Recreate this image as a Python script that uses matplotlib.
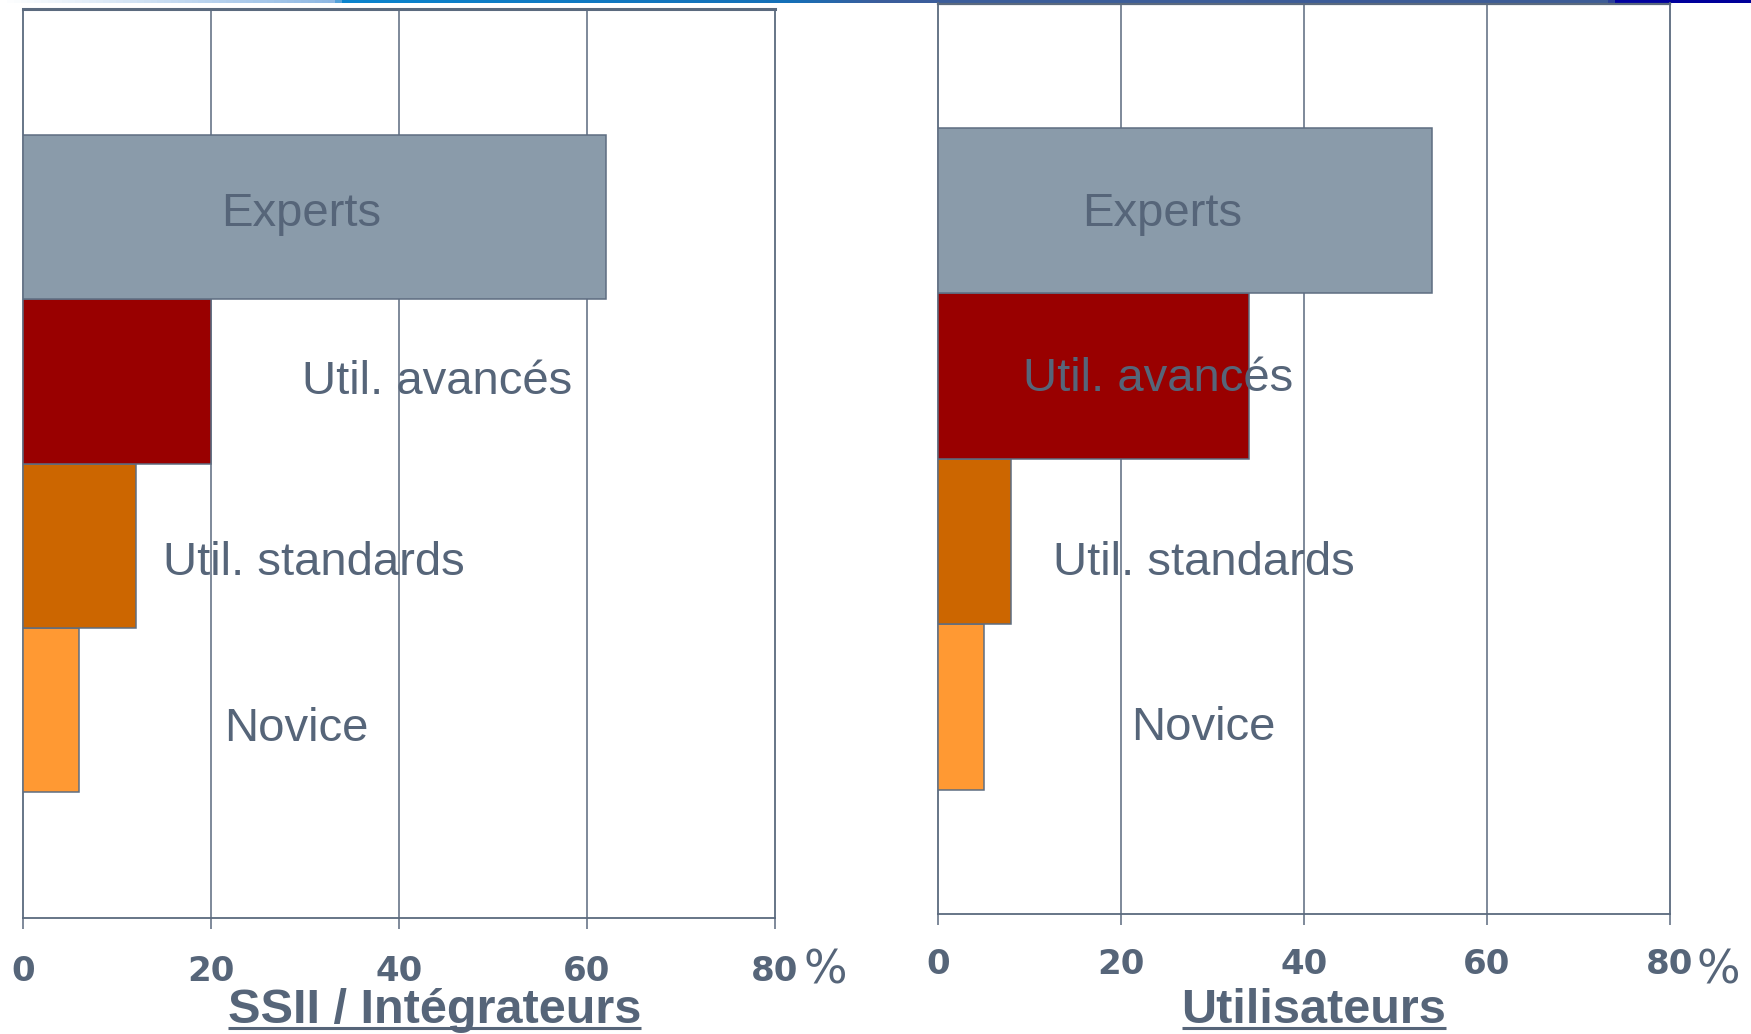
import numpy as np
import matplotlib
matplotlib.use("Agg")
import matplotlib.pyplot as plt
from matplotlib.colors import LinearSegmentedColormap
from matplotlib.lines import Line2D

# ---------------- data ----------------
categories = ["Novice", "Util. standards", "Util. avancés", "Experts"]  # bottom -> top
ssii_values = [6, 12, 20, 62]
user_values = [5, 8, 34, 54]
tick_values = [0, 20, 40, 60, 80]
tick_labels = ["0", "20", "40", "60", "80"]
panel_titles = ["SSII / Intégrateurs", "Utilisateurs"]

# ---------------- style ----------------
bar_colors = ["#FF9933", "#CC6600", "#990000", "#8A9BAA"]
edge_col = "#5E6D81"
text_col = "#566579"
line_col = "#5B6A7E"

W, H = 1751, 1034
DPI = 100
fig = plt.figure(figsize=(W / DPI, H / DPI), dpi=DPI)
fig.patch.set_facecolor("white")


def px_rect(x0, y0, x1, y1):
    """pixel box (top-left origin) -> figure fraction rect"""
    return [x0 / W, 1 - y1 / H, (x1 - x0) / W, (y1 - y0) / H]


# top decorative gradient band
gax = fig.add_axes(px_rect(0, 0, W, 3.5))
gcmap = LinearSegmentedColormap.from_list(
    "band",
    [(0.0, "#FFFFFF"), (0.19, "#8DB7E3"), (0.195, "#0A84CE"), (0.45, "#1570B8"),
     (0.5, "#3B5E9C"), (0.92, "#3E5C96"), (0.925, "#0000A0"), (1.0, "#000099")])
gax.imshow(np.linspace(0, 1, 512)[None, :], aspect="auto", cmap=gcmap,
           extent=[0, 1, 0, 1])
gax.set_axis_off()

panels = [
    dict(rect=px_rect(22.7, 9, 774.7, 918), values=ssii_values,
         ylim=(-1.27, 4.27), pad=18.5, topw=2.2),
    dict(rect=px_rect(938, 3.5, 1670, 914), values=user_values,
         ylim=(-1.25, 4.25), pad=16.5, topw=1.6),
]

# label text positions in pixels (centre x, baseline y), same order as categories
label_px = [
    [(296, 741), (314, 575), (437, 394), (301, 226)],
    [(1203, 740), (1204, 575), (1158, 391), (1162, 226)],
]
pct_px = [(803, 983), (1696, 983)]
title_px = [(434.5, 1023), (1314, 1023)]

axes = []
for p in panels:
    ax = fig.add_axes(p["rect"])
    axes.append(ax)
    y = np.arange(len(categories))
    ax.barh(y, p["values"], height=1.0, color=bar_colors, edgecolor=edge_col,
            linewidth=1.1, zorder=3)
    ax.set_xlim(0, 80)
    ax.set_ylim(*p["ylim"])
    ax.set_yticks([])
    ax.set_xticks(tick_values)
    ax.set_xticklabels(tick_labels, fontfamily="DejaVu Sans", fontweight="bold",
                       fontsize=24.5, color=text_col)
    ax.tick_params(axis="x", direction="out", length=8, width=1.1,
                   color=line_col, pad=p["pad"])
    for v in tick_values[1:-1]:
        ax.axvline(v, color=line_col, linewidth=1.1, zorder=1)
    for s in ax.spines.values():
        s.set_color(line_col)
        s.set_linewidth(1.3)
    ax.spines["top"].set_linewidth(p["topw"])
    ax.set_facecolor("white")

for i, ax in enumerate(axes):
    for (cx, by), name in zip(label_px[i], categories):
        fig.text(cx / W, 1 - by / H, name, ha="center", va="baseline",
                 fontfamily="Liberation Sans", fontsize=34, color=text_col,
                 zorder=10)
    px, py = pct_px[i]
    fig.text(px / W, 1 - py / H, "%", ha="left", va="baseline",
             fontfamily="DejaVu Sans", fontsize=33, color=text_col)

# titles with underline
fig.canvas.draw()
renderer = fig.canvas.get_renderer()
for (cx, by), t in zip(title_px, panel_titles):
    txt = fig.text(cx / W, 1 - by / H, t, ha="center", va="baseline",
                   fontfamily="Liberation Sans", fontweight="bold",
                   fontsize=35, color=text_col)
    bb = txt.get_window_extent(renderer=renderer)
    uy = 1 - 1028 / H
    fig.add_artist(Line2D([bb.x0 / W, bb.x1 / W], [uy, uy],
                          transform=fig.transFigure, color=text_col,
                          linewidth=2.2, solid_capstyle="butt"))

fig.savefig("out.png", dpi=DPI, facecolor="white")
